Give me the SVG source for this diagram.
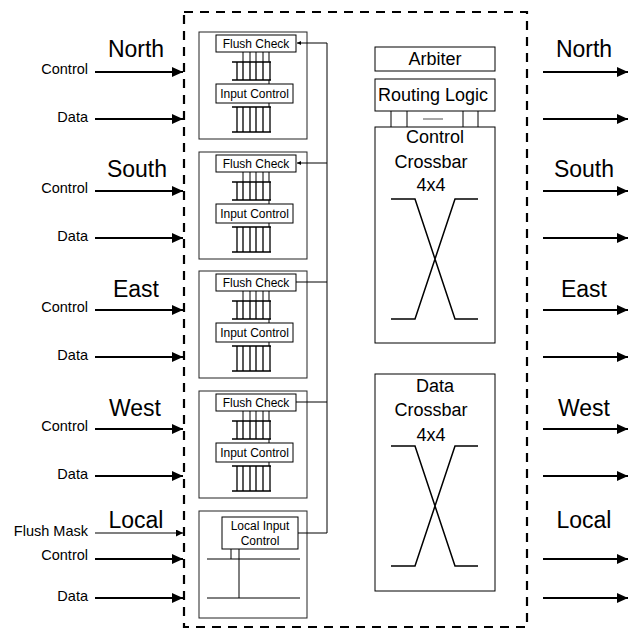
<svg xmlns="http://www.w3.org/2000/svg" width="641" height="631" viewBox="0 0 641 631">
<style>
text{font-family:"Liberation Sans",Arial,sans-serif;fill:#000}
.big{font-size:23px;text-anchor:middle}
.sub{font-size:14.5px;text-anchor:end}
.box{fill:#fff;stroke:#000;stroke-width:1}
.blk{fill:#fff;stroke:#222;stroke-width:1}
.ln{stroke:#000;stroke-width:1;fill:none}
.bf{stroke:#000;stroke-width:1.3;fill:none}
.xb{stroke:#000;stroke-width:1.5;fill:none}
.mid{font-size:18px;text-anchor:middle}
.sm{font-size:12px;text-anchor:middle}
.thick{stroke:#000;stroke-width:2.2;fill:none;marker-end:url(#ah)}
.thin{stroke:#000;stroke-width:1.2;fill:none;marker-end:url(#as)}
</style>
<defs>
<marker id="ah" markerUnits="userSpaceOnUse" markerWidth="12" markerHeight="10" refX="11" refY="5" orient="auto"><path d="M0,0 L11,5 L0,10 z" fill="#000"/></marker>
<marker id="as" markerUnits="userSpaceOnUse" markerWidth="8" markerHeight="8" refX="7" refY="3.5" orient="auto"><path d="M0,0 L7,3.5 L0,7 z" fill="#000"/></marker>
<marker id="at" markerUnits="userSpaceOnUse" markerWidth="5" markerHeight="5" refX="4" refY="2" orient="auto"><path d="M0,0 L4,2 L0,4 z" fill="#000"/></marker>
<g id="buf">
<path class="bf" d="M232,0 H271 M232,18 H271 M237,0 V18 M243,0 V18 M250,0 V18 M256,0 V18 M263,0 V18 M270,0 V18"/>
</g>
<g id="buf2">
<path class="bf" d="M232,0 H271 M232,25 H271 M237,0 V25 M243,0 V25 M250,0 V25 M256,0 V25 M263,0 V25 M270,0 V25"/>
</g>
<g id="inblock">
<rect class="blk" x="199" y="0" width="108" height="107"/>
<rect class="box" x="216" y="3" width="80" height="17"/>
<text class="sm" x="256" y="16">Flush Check</text>
<path class="ln" d="M243,20 V30 M250,20 V30 M256,20 V30 M263,20 V30 M269,20 V30"/>
<use href="#buf" y="30"/>
<path class="ln" d="M269,48 V52"/>
<rect class="box" x="216" y="52" width="77" height="19"/>
<text class="sm" x="254.5" y="66">Input Control</text>
<path class="ln" d="M269,71 V75"/>
<use href="#buf2" y="75"/>
</g>
</defs>

<rect id="router" x="184" y="12" width="343" height="615" fill="none" stroke="#000" stroke-width="2.2" stroke-dasharray="9,7"/>

<g id="block-north"><use href="#inblock" y="32"/></g>
<g id="block-south"><use href="#inblock" y="152"/></g>
<g id="block-east"><use href="#inblock" y="271"/></g>
<g id="block-west"><use href="#inblock" y="391"/></g>

<g id="block-local">
<rect class="blk" x="199" y="511" width="108" height="107"/>
<rect class="box" x="222" y="517" width="76" height="32"/>
<text class="sm" x="260" y="530">Local Input</text>
<text class="sm" x="260" y="545">Control</text>
<path class="ln" d="M207,559 H300 M207,598 H300 M231,549 V559 M239,549 V598"/>
</g>

<g id="arbiter">
<rect class="box" x="375" y="47" width="120" height="24"/>
<text class="mid" x="435" y="65">Arbiter</text>
</g>
<g id="routing-logic">
<rect class="box" x="375" y="79" width="120" height="32"/>
<text class="mid" x="433" y="101">Routing Logic</text>
</g>
<g id="control-crossbar">
<rect class="box" x="375" y="127" width="120" height="216"/>
<text class="mid" x="435" y="143">Control</text>
<text class="mid" x="431" y="168">Crossbar</text>
<text class="mid" x="431" y="191">4x4</text>
<path class="xb" d="M391,199 H415 L455,319 H478 M391,319 H415 L455,199 H478"/>
</g>
<g id="data-crossbar">
<rect class="box" x="375" y="374" width="120" height="217"/>
<text class="mid" x="435" y="392">Data</text>
<text class="mid" x="431" y="416">Crossbar</text>
<text class="mid" x="431" y="441">4x4</text>
<path class="xb" d="M391,446 H415 L455,566 H478 M391,566 H415 L455,446 H478"/>
</g>

<g id="connectors">
<path class="ln" d="M391,111 V127 M407,111 V127 M463,111 V127 M478,111 V127"/>
<path d="M423,119 H443" stroke="#888" stroke-width="1.5"/>
<path class="ln" d="M327,43 V533 H298"/>
<path class="ln" d="M327,43 H297" marker-end="url(#at)"/>
<path class="ln" d="M327,163 H297" marker-end="url(#at)"/>
<path class="ln" d="M327,282 H296"/>
<path class="ln" d="M327,402 H296"/>
<path class="thick" d="M95,72 H183"/>
<path class="thick" d="M95,119 H183"/>
<path class="thick" d="M95,191 H183"/>
<path class="thick" d="M95,238 H183"/>
<path class="thick" d="M95,310 H183"/>
<path class="thick" d="M95,357 H183"/>
<path class="thick" d="M95,429 H183"/>
<path class="thick" d="M95,476 H183"/>
<path class="thin" d="M95,533 H183"/>
<path class="thick" d="M95,559 H183"/>
<path class="thick" d="M95,598 H183"/>
<path class="thick" d="M543,72 H628"/>
<path class="thick" d="M543,119 H628"/>
<path class="thick" d="M543,191 H628"/>
<path class="thick" d="M543,238 H628"/>
<path class="thick" d="M543,310 H628"/>
<path class="thick" d="M543,357 H628"/>
<path class="thick" d="M543,429 H628"/>
<path class="thick" d="M543,476 H628"/>
<path class="thick" d="M543,559 H628"/>
<path class="thick" d="M543,598 H628"/>
</g>

<g id="labels">
<text class="big" x="136" y="57">North</text>
<text class="big" x="137" y="177">South</text>
<text class="big" x="136" y="297">East</text>
<text class="big" x="135" y="416">West</text>
<text class="big" x="136" y="528">Local</text>
<text class="big" x="584" y="57">North</text>
<text class="big" x="584" y="177">South</text>
<text class="big" x="584" y="297">East</text>
<text class="big" x="584" y="416">West</text>
<text class="big" x="584" y="528">Local</text>
<text class="sub" x="88" y="74">Control</text>
<text class="sub" x="88" y="122">Data</text>
<text class="sub" x="88" y="193">Control</text>
<text class="sub" x="88" y="241">Data</text>
<text class="sub" x="88" y="312">Control</text>
<text class="sub" x="88" y="360">Data</text>
<text class="sub" x="88" y="431">Control</text>
<text class="sub" x="88" y="479">Data</text>
<text class="sub" x="88" y="536">Flush Mask</text>
<text class="sub" x="88" y="560">Control</text>
<text class="sub" x="88" y="601">Data</text>
</g>
</svg>
